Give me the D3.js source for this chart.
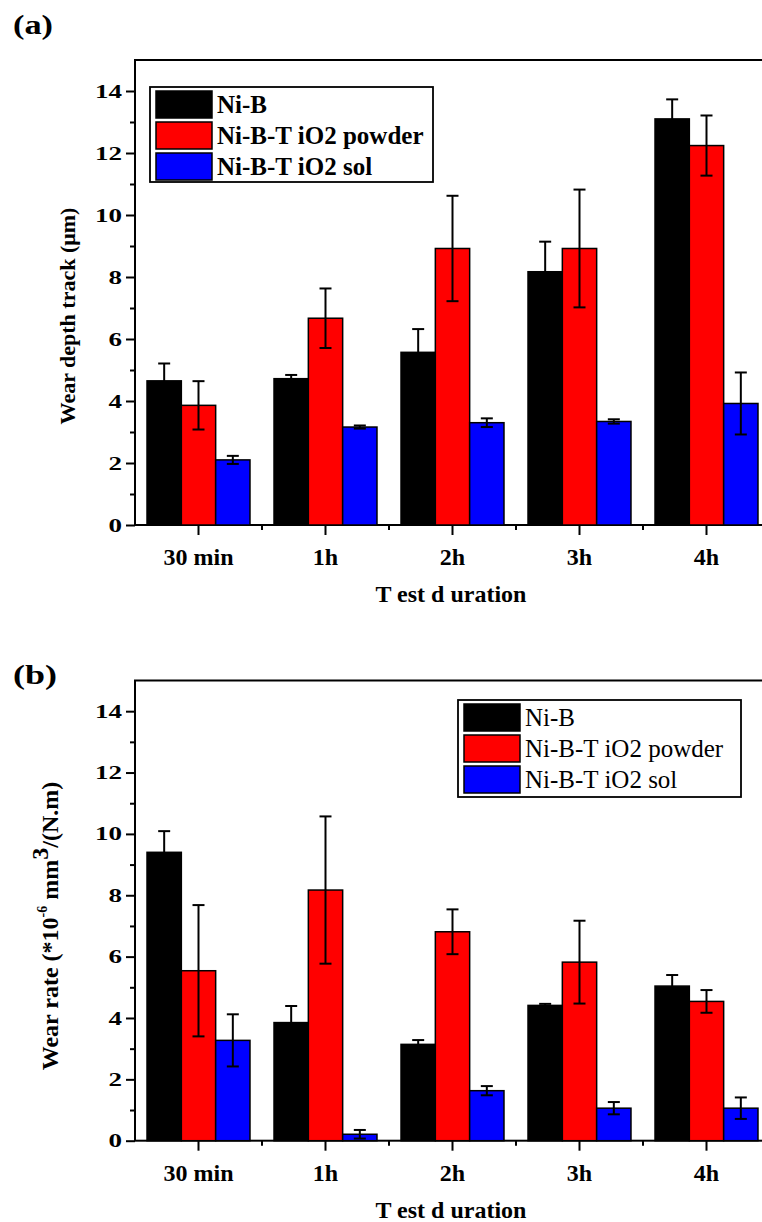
<!DOCTYPE html>
<html>
<head>
<meta charset="utf-8">
<script src="https://cdn.jsdelivr.net/npm/d3@7"></script>
<style>
  body { margin: 0; background: #fff; }
  svg { display: block; }
  text { font-family: "Liberation Serif", "Times New Roman", "DejaVu Serif", serif; fill: #000; }
</style>
</head>
<body>
<svg id="fig" width="762" height="1222"></svg>
<script>
// ---- data ----
const durations = ["30 min", "1h", "2h", "3h", "4h"];
const seriesNames = ["Ni-B", "Ni-B-T iO2 powder", "Ni-B-T iO2 sol"];
const seriesColors = ["#000000", "#ff0000", "#0000ff"];
const majorTicks = [0, 2, 4, 6, 8, 10, 12, 14];
const minorTicks = [1, 3, 5, 7, 9, 11, 13];

// (a) wear depth track, µm
const depthNiB = [4.65, 4.72, 5.57, 8.17, 13.10];
const depthNiBErr = [0.56, 0.12, 0.75, 0.97, 0.63];
const depthPowder = [3.86, 6.67, 8.92, 8.92, 12.24];
const depthPowderErr = [0.78, 0.96, 1.70, 1.90, 0.97];
const depthSol = [2.10, 3.16, 3.30, 3.34, 3.92];
const depthSolErr = [0.13, 0.05, 0.14, 0.07, 1.00];

// (b) wear rate, 1e-6 mm^3/(N.m)
const rateNiB = [9.40, 3.85, 3.14, 4.41, 5.04];
const rateNiBErr = [0.69, 0.54, 0.14, 0.05, 0.36];
const ratePowder = [5.54, 8.17, 6.81, 5.82, 4.54];
const ratePowderErr = [2.14, 2.40, 0.73, 1.35, 0.37];
const rateSol = [3.27, 0.21, 1.63, 1.06, 1.06];
const rateSolErr = [0.85, 0.14, 0.15, 0.20, 0.35];

const svg = d3.select("#fig");
const serif = "Liberation Serif, Times New Roman, DejaVu Serif, serif";

function drawPanel(opts) {
  const g = svg.append("g");
  const x0 = d3.scaleBand().domain(durations).range([135, 770]).padding(0);
  const x1 = d3.scaleBand().domain(seriesNames).range([0, x0.bandwidth()])
    .paddingInner(0).paddingOuter(0.35);
  const y = d3.scaleLinear().domain([0, 15]).range([opts.bottom, opts.top]);

  // frame
  g.append("rect")
    .attr("x", x0.range()[0]).attr("y", y(15))
    .attr("width", x0.range()[1] - x0.range()[0]).attr("height", y(0) - y(15))
    .attr("fill", "none").attr("stroke", "#000").attr("stroke-width", 2);

  // bars + error bars
  const rows = [];
  durations.forEach((d, i) => {
    opts.series.forEach((s, k) => {
      rows.push({ d, name: seriesNames[k], color: seriesColors[k], v: s.values[i], e: s.errors[i] });
    });
  });

  g.append("g").selectAll("rect").data(rows).join("rect")
    .attr("x", r => x0(r.d) + x1(r.name))
    .attr("y", r => y(r.v))
    .attr("width", x1.bandwidth())
    .attr("height", r => y(0) - y(r.v))
    .attr("fill", r => r.color)
    .attr("stroke", "#000").attr("stroke-width", 1.5);

  const eb = g.append("g").attr("stroke", "#000").attr("stroke-width", 2);
  const cx = r => x0(r.d) + x1(r.name) + x1.bandwidth() / 2;
  eb.selectAll("line.v").data(rows).join("line").attr("class", "v")
    .attr("x1", cx).attr("x2", cx)
    .attr("y1", r => y(r.v - r.e)).attr("y2", r => y(r.v + r.e));
  eb.selectAll("line.t").data(rows).join("line").attr("class", "t")
    .attr("x1", r => cx(r) - 6).attr("x2", r => cx(r) + 6)
    .attr("y1", r => y(r.v + r.e)).attr("y2", r => y(r.v + r.e));
  eb.selectAll("line.b").data(rows).join("line").attr("class", "b")
    .attr("x1", r => cx(r) - 6).attr("x2", r => cx(r) + 6)
    .attr("y1", r => y(r.v - r.e)).attr("y2", r => y(r.v - r.e));

  // y axis
  const yAx = g.append("g").attr("transform", `translate(${x0.range()[0]},0)`)
    .call(d3.axisLeft(y).tickValues(majorTicks).tickSize(9).tickPadding(4));
  yAx.attr("font-family", serif);
  yAx.select(".domain").remove();
  yAx.selectAll("line").attr("stroke-width", 2);
  yAx.selectAll("text")
    .attr("font-size", 19).attr("font-weight", "bold")
    .attr("textLength", d => String(d).length * 13.5)
    .attr("lengthAdjust", "spacingAndGlyphs");
  const yMin = g.append("g").attr("transform", `translate(${x0.range()[0]},0)`)
    .call(d3.axisLeft(y).tickValues(minorTicks).tickSize(5).tickFormat(""));
  yMin.select(".domain").remove();
  yMin.selectAll("line").attr("stroke-width", 2);

  // x axis
  const xAx = g.append("g").attr("transform", `translate(0,${y(0)})`)
    .call(d3.axisBottom(x0).tickSize(10).tickPadding(13));
  xAx.attr("font-family", serif);
  xAx.select(".domain").remove();
  xAx.selectAll("line").attr("stroke-width", 2);
  xAx.selectAll("text").attr("font-size", 24).attr("font-weight", "bold");
  g.append("g").selectAll("line").data(durations.slice(1)).join("line")
    .attr("x1", d => x0(d)).attr("x2", d => x0(d))
    .attr("y1", y(0)).attr("y2", y(0) + 5)
    .attr("stroke", "#000").attr("stroke-width", 2);

  // axis titles
  g.append("text")
    .attr("x", 451).attr("y", y(0) + 77)
    .attr("text-anchor", "middle").attr("font-size", 24).attr("font-weight", "bold")
    .text("T est d uration");

  const yt = g.append("text")
    .attr("transform", `translate(${opts.yTitleX},${opts.yTitleY}) rotate(-90)`)
    .attr("text-anchor", "middle").attr("font-size", opts.yTitleSize).attr("font-weight", "bold");
  opts.yTitle(yt);

  // panel letter
  g.append("text").attr("x", 13).attr("y", opts.letterY)
    .attr("font-size", 28).attr("font-weight", "bold")
    .attr("textLength", opts.letterWidth).attr("lengthAdjust", "spacingAndGlyphs")
    .text(opts.letter);

  // legend
  const L = opts.legend;
  const lg = g.append("g");
  lg.append("rect").attr("x", L.x).attr("y", L.y).attr("width", L.w).attr("height", L.h)
    .attr("fill", "#fff").attr("stroke", "#000").attr("stroke-width", 1.8);
  const items = lg.selectAll("g.item").data(seriesNames).join("g").attr("class", "item")
    .attr("transform", (d, i) => `translate(${L.x + 6},${L.y + 4 + i * L.step})`);
  items.append("rect").attr("width", 56).attr("height", L.step - 4)
    .attr("fill", (d, i) => seriesColors[i]).attr("stroke", "#000").attr("stroke-width", 1.5);
  items.append("text").attr("x", 61).attr("y", L.step - 9)
    .attr("font-size", 25).attr("font-weight", L.weight)
    .text(d => d);
}

drawPanel({
  top: 60, bottom: 525, letter: "(a)", letterY: 34, letterWidth: 40,
  series: [
    { values: depthNiB, errors: depthNiBErr },
    { values: depthPowder, errors: depthPowderErr },
    { values: depthSol, errors: depthSolErr }
  ],
  yTitleX: 75, yTitleY: 316, yTitleSize: 22,
  yTitle: t => t.text("Wear depth track (\u03bcm)"),
  legend: { x: 150, y: 87, w: 283, h: 95, step: 31, weight: "bold" }
});

drawPanel({
  top: 680.5, bottom: 1140.7, letter: "(b)", letterY: 684, letterWidth: 44,
  series: [
    { values: rateNiB, errors: rateNiBErr },
    { values: ratePowder, errors: ratePowderErr },
    { values: rateSol, errors: rateSolErr }
  ],
  yTitleX: 58, yTitleY: 926, yTitleSize: 24,
  yTitle: t => {
    t.append("tspan").text("Wear rate (*10");
    t.append("tspan").attr("font-size", 14).attr("dy", -11).text("-6");
    t.append("tspan").attr("dy", 11).text(" mm");
    t.append("tspan").attr("font-size", 24).attr("dy", -10).text("3");
    t.append("tspan").attr("dy", 10).text("/(N.m)");
  },
  legend: { x: 458, y: 700, w: 283, h: 97, step: 31, weight: "normal" }
});
</script>
</body>
</html>
